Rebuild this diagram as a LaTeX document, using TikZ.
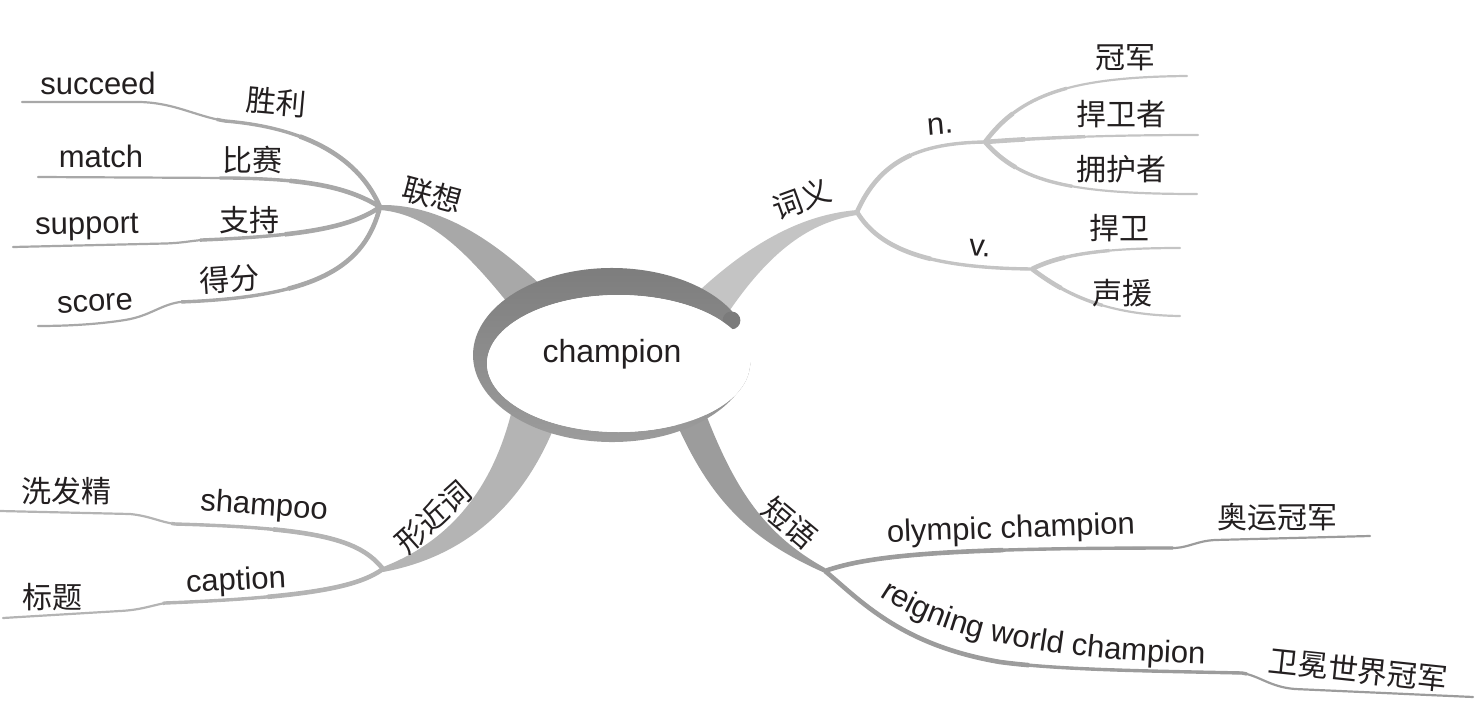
\documentclass[tikz,border=0pt]{standalone}
\usepackage{fontspec}
\setmainfont{Liberation Sans}
\newfontfamily\cjk{Noto Sans CJK SC}
\usetikzlibrary{decorations.text}
\definecolor{ink}{HTML}{231F20}
\definecolor{gA}{HTML}{A8A8A8}
\definecolor{gB}{HTML}{C4C4C4}
\definecolor{gC}{HTML}{B4B4B4}
\definecolor{gD}{HTML}{9C9C9C}
\definecolor{ringtop}{HTML}{7B7B7B}
\definecolor{ringbot}{HTML}{9E9E9E}
\newcommand\twig[4]{%
  \draw[#1,line width=2.2pt,line cap=round] #4;
  \draw[#1,line width=3.4pt,dash pattern=on #2 off 3000pt] #4;
  \draw[#1,line width=4.6pt,dash pattern=on #3 off 3000pt] #4;}
\begin{document}
\begin{tikzpicture}[x=1pt,y=-1pt,
  en/.style={font=\fontsize{31}{36}\selectfont,text=ink,inner sep=0pt},
  zh/.style={font=\cjk\fontsize{30}{36}\selectfont,text=ink,inner sep=0pt}]
\useasboundingbox (0,0) rectangle (1478,715);
% junctions
\coordinate (J1) at (380,207);
\coordinate (J2) at (857,212);
\coordinate (Jn) at (985,142);
\coordinate (Jv) at (1032,269);
\coordinate (J3) at (383,569);
\coordinate (J4) at (825,571);
% main branches
\fill[gA] (380,205) .. controls (440,204) and (495,240) .. (548,292) -- (515,312) .. controls (472,258) and (432,214) .. (380,210) -- cycle;
\fill[gB] (857,210) .. controls (810,214) and (760,235) .. (700,290) -- (722,322) .. controls (770,248) and (812,222) .. (857,215) -- cycle;
\fill[gC] (383,567) .. controls (440,545) and (490,500) .. (512,410) -- (555,425) .. controls (525,500) and (470,556) .. (383,572) -- cycle;
\fill[gD] (825,573) .. controls (750,540) and (710,500) .. (675,420) -- (705,412) .. controls (735,490) and (765,535) .. (825,568) -- cycle;
% twigs
\twig{gA}{195pt}{110pt}{(J1) .. controls (360,160) and (310,128) .. (225,121) .. controls (195,116) and (175,103) .. (140,102) -- (22,102)}
\twig{gA}{165pt}{95pt}{(J1) .. controls (345,185) and (300,179) .. (230,178) -- (38,177)}
\twig{gA}{185pt}{100pt}{(J1) .. controls (350,228) and (300,236) .. (202,240) .. controls (190,241) and (182,243) .. (165,243.5) -- (13,247)}
\twig{gA}{238pt}{130pt}{(J1) .. controls (365,265) and (320,297) .. (180,302) .. controls (160,305) and (150,316) .. (125,320) .. controls (100,324) and (70,326) .. (38,326)}
\twig{gB}{160pt}{80pt}{(J2) .. controls (880,160) and (920,143) .. (Jn)}
\twig{gB}{195pt}{90pt}{(J2) .. controls (880,250) and (930,268) .. (Jv)}
\twig{gB}{100pt}{40pt}{(Jn) .. controls (1020,95) and (1070,77) .. (1187,76)}
\twig{gB}{100pt}{40pt}{(Jn) .. controls (1050,137) and (1120,135) .. (1198,135)}
\twig{gB}{100pt}{40pt}{(Jn) .. controls (1020,182) and (1070,194) .. (1197,194)}
\twig{gB}{80pt}{35pt}{(Jv) .. controls (1060,255) and (1100,248) .. (1180,248)}
\twig{gB}{80pt}{35pt}{(Jv) .. controls (1060,290) and (1100,315) .. (1180,316)}
\twig{gC}{222pt}{120pt}{(J3) .. controls (360,540) and (320,528) .. (175,524) .. controls (160,522) and (150,516) .. (130,514) -- (0,511)}
\twig{gC}{225pt}{120pt}{(J3) .. controls (360,585) and (320,597) .. (165,603) .. controls (150,606) and (140,610) .. (120,611) -- (3,618)}
\twig{gD}{350pt}{180pt}{(J4) .. controls (870,555) and (950,548) .. (1175,548) .. controls (1190,547) and (1197,541) .. (1215,540) -- (1370,536)}
\twig{gD}{448pt}{230pt}{(J4) .. controls (860,600) and (900,645) .. (1000,662) .. controls (1060,670) and (1150,671) .. (1242,673) .. controls (1260,676) and (1270,687) .. (1295,689) -- (1473,697)}
% central ring
\shade[top color=ringtop,bottom color=ringbot] (732.4,311.5) arc[start angle=-30,end angle=-355,x radius=139,y radius=87] -- (749.5,369.5) arc[start angle=-355,end angle=-30,x radius=131.5,y radius=68.5] -- cycle;
\fill[ringtop] (731.5,320.4) circle[radius=8.9pt];
\fill[white] (618.5,363.5) ellipse[x radius=131.5,y radius=68.5];
\node[en,font=\fontsize{32}{38}\selectfont] (center) at (612,354) {champion};
% labels
\node[zh,rotate=-15] (lx) at (432,195) {联想};
\node[en] (succeed) at (98,83) {succeed};
\node[zh,rotate=-5] (shengli) at (276,102) {胜利};
\node[en] (match) at (101,156) {match};
\node[zh] (bisai) at (252,160) {比赛};
\node[en,rotate=1] (support) at (87,227) {support};
\node[zh] (zhichi) at (249,220) {支持};
\node[en,rotate=3] (score) at (95,303) {score};
\node[zh,rotate=4] (defen) at (230,279) {得分};
\node[zh,rotate=20] (ciyi) at (802,199) {词义};
\node[en,rotate=5] (n) at (940,126) {n.};
\node[en,rotate=-4] (v) at (980,248) {v.};
\node[zh] (guanjun) at (1125,58) {冠军};
\node[zh] (hanweizhe) at (1121,114) {捍卫者};
\node[zh] (yonghuzhe) at (1121,169) {拥护者};
\node[zh] (hanwei) at (1119,228) {捍卫};
\node[zh] (shengyuan) at (1122,293) {声援};
\node[zh,rotate=42] (xjc) at (433,517) {形近词};
\node[zh] (xifajing) at (66,491) {洗发精};
\node[en,rotate=-4] (shampoo) at (264,507) {shampoo};
\node[zh] (biaoti) at (52,597) {标题};
\node[en,rotate=3] (caption) at (236,582) {caption};
\node[zh,rotate=-40] (duanyu) at (790,523) {短语};
\node[en,rotate=2] (olympic) at (1011,530) {olympic champion};
\node[zh] (aoyun) at (1277,517) {奥运冠军};
\node[zh,rotate=-6] (weimian) at (1358,670) {卫冕世界冠军};
\coordinate (rw0) at (880,596);
\coordinate (rw1) at (1212,664);
\path[decorate,decoration={text along path,text color=ink,
  text={|\fontsize{31}{36}\selectfont|reigning world champion}}]
  (rw0) .. controls (925,626) and (1005,660) .. (rw1);
\end{tikzpicture}
\end{document}
